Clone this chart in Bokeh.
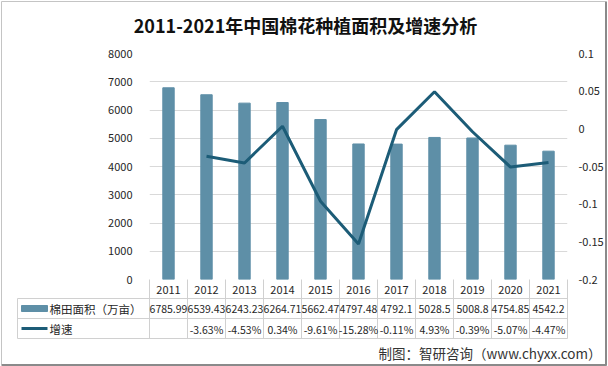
from bokeh.plotting import figure
from bokeh.models import Range1d, LinearAxis, FixedTicker
from bokeh.core.properties import value
from bokeh.embed import file_html
from bokeh.resources import INLINE

# ---- data ----
years = ["2011", "2012", "2013", "2014", "2015", "2016", "2017", "2018", "2019", "2020", "2021"]
area = [6785.99, 6539.43, 6243.23, 6264.71, 5662.47, 4797.48, 4792.1, 5028.5, 5008.8, 4754.85, 4542.2]
growth_years = ["2012", "2013", "2014", "2015", "2016", "2017", "2018", "2019", "2020", "2021"]
growth = [-0.0363, -0.0453, 0.0034, -0.0961, -0.1528, -0.0011, 0.0493, -0.0039, -0.0507, -0.0447]
left_ticks = [0, 1000, 2000, 3000, 4000, 5000, 6000, 7000, 8000]
right_ticks = [-0.2, -0.15, -0.1, -0.05, 0, 0.05, 0.1]
right_labels = ["-0.2", "-0.15", "-0.1", "-0.05", "0", "0.05", "0.1"]
title_text = "2011-2021年中国棉花种植面积及增速分析"
series_names = ["棉田面积（万亩）", "增速"]
source_text = "制图：智研咨询（www.chyxx.com）"

FONT = "Noto Sans CJK SC"
BAR = "#5E8FA7"
LINE = "#1C5C77"
GRID = "#D9D9D9"
TXT = "#262626"

idx = list(range(len(years)))
gidx = [years.index(y) for y in growth_years]

p = figure(frame_width=418, frame_height=226,
           min_border_left=149, min_border_right=41, min_border_top=53, min_border_bottom=87,
           x_range=Range1d(-0.5, len(years) - 0.5), y_range=Range1d(0, 8000),
           x_axis_location=None, output_backend="svg", toolbar_location=None)
p.extra_y_ranges = {"g": Range1d(-0.2, 0.1)}
p.outline_line_color = None
p.xgrid.grid_line_color = None
p.ygrid.ticker = FixedTicker(ticks=left_ticks)
p.ygrid.grid_line_color = GRID

ya = p.yaxis[0]
ya.ticker = FixedTicker(ticks=left_ticks)
ra = LinearAxis(y_range_name="g", ticker=FixedTicker(ticks=right_ticks))
ra.major_label_overrides = dict(zip(right_ticks, right_labels))
p.add_layout(ra, "right")
for ax in (ya, ra):
    ax.axis_line_color = None
    ax.major_tick_line_color = None
    ax.minor_tick_line_color = None
    ax.major_label_text_font = FONT
    ax.major_label_text_font_size = "11px"
    ax.major_label_text_color = TXT
ya.major_label_standoff = 11
ra.major_label_standoff = 5

p.vbar(x=idx, top=area, width=0.3, color=BAR)
p.line(x=gidx, y=growth, y_range_name="g", line_color=LINE, line_width=3)

# pixel helpers (image pixels -> data coords)
def X(px):
    return (px - 168) / 38.0

def Y(py):
    return (279 - py) * 8000 / 226.0

# ---- outer chart border ----
p.segment(x0=[X(1), X(1)], y0=[Y(1), Y(1)], x1=[X(605), X(1)], y1=[Y(1), Y(364)],
          line_color="#C4C4C4", line_width=1, level="overlay")
p.segment(x0=[X(605.5), X(1)], y0=[Y(1), Y(364.5)], x1=[X(605.5), X(606)], y1=[Y(365), Y(364.5)],
          line_color="#8A8A8A", line_width=2, level="overlay")

# ---- data table ----
lc = "#D0D0D0"
xl, xr = X(17), X(567)
hy = [Y(298), Y(318), Y(338)]
p.segment(x0=[xl] * 3, y0=hy, x1=[xr] * 3, y1=hy, line_color=lc, line_width=1, level="overlay")
vx = [i - 0.5 for i in range(len(years) + 1)]
p.segment(x0=vx, y0=[0] * len(vx), x1=vx, y1=[Y(338)] * len(vx), line_color=lc, line_width=1, level="overlay")
p.segment(x0=[xl], y0=[Y(298)], x1=[xl], y1=[Y(338)], line_color=lc, line_width=1, level="overlay")

p.text(x=idx, y=[Y(289)] * len(idx), text=years, text_font=value(FONT), text_font_size="11px",
       text_color=TXT, text_align="center", text_baseline="middle", level="overlay")
p.text(x=idx, y=[Y(308.5)] * len(idx), text=[str(v) for v in area], text_font=value(FONT),
       text_font_size="10.5px", text_color=TXT, text_align="center", text_baseline="middle", level="overlay")
p.text(x=gidx, y=[Y(328.5)] * len(gidx), text=[f"{g*100:.2f}%" for g in growth], text_font=value(FONT),
       text_font_size="10.5px", text_color=TXT, text_align="center", text_baseline="middle", level="overlay")

# legend keys in table
p.quad(left=[X(21)], right=[X(47)], top=[Y(305)], bottom=[Y(311)], color=BAR, level="overlay")
p.segment(x0=[X(21)], y0=[Y(328)], x1=[X(47)], y1=[Y(328)], line_color=LINE, line_width=3, level="overlay")
p.text(x=[X(49), X(49)], y=[Y(308.5), Y(328.5)], text=series_names, text_font=value(FONT),
       text_font_size="11.5px", text_color=TXT, text_align="left", text_baseline="middle", level="overlay")

# title and source
p.text(x=[X(305)], y=[Y(24)], text=[title_text], text_font=value(FONT), text_font_size="18px",
       text_font_style="bold", text_color="#111111", text_align="center", text_baseline="middle", level="overlay")
p.text(x=[X(601)], y=[Y(352)], text=[source_text], text_font=value(FONT), text_font_size="13.5px",
       text_color="#333333", text_align="right", text_baseline="middle", level="overlay")

open("out.html", "w").write(file_html(p, INLINE))
